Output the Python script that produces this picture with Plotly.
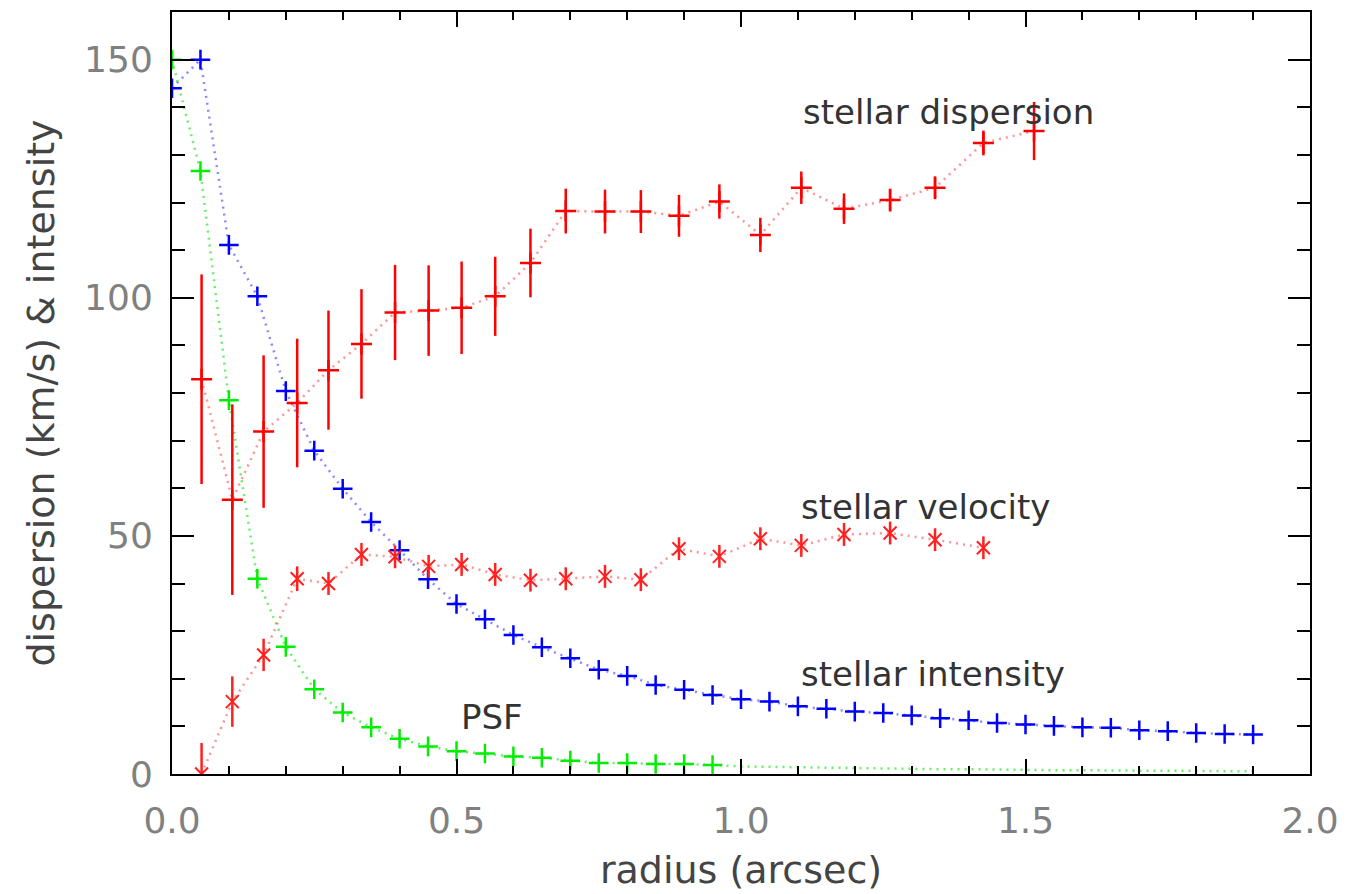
import plotly.graph_objects as go

# ---- data ----
r_int = [0.00, 0.05, 0.10, 0.15, 0.20, 0.25, 0.30, 0.35, 0.40, 0.45, 0.50, 0.55, 0.60,
         0.65, 0.70, 0.75, 0.80, 0.85, 0.90, 0.95, 1.00, 1.05, 1.10, 1.15, 1.20, 1.25,
         1.30, 1.35, 1.40, 1.45, 1.50, 1.55, 1.60, 1.65, 1.70, 1.75, 1.80, 1.85, 1.90]
stellar_intensity = [144.0, 150.0, 111.1, 100.3, 80.4, 67.9, 59.9, 52.9, 47.0, 40.9, 35.7,
                     32.5, 29.2, 26.6, 24.3, 21.9, 20.6, 18.7, 17.7, 16.6, 15.7, 15.2, 14.2,
                     13.7, 13.1, 12.8, 12.3, 11.7, 11.3, 10.7, 10.4, 10.1, 9.8, 9.7, 9.2,
                     9.0, 8.6, 8.4, 8.3]

r_psf = [0.00, 0.05, 0.10, 0.15, 0.20, 0.25, 0.30, 0.35, 0.40, 0.45, 0.50, 0.55, 0.60,
         0.65, 0.70, 0.75, 0.80, 0.85, 0.90, 0.95]
psf = [150.0, 126.6, 78.5, 41.0, 26.7, 17.8, 12.9, 9.8, 7.4, 5.8, 4.8, 4.3, 3.7, 3.4,
       2.8, 2.3, 2.3, 2.1, 2.1, 1.9]
r_psf_tail = [0.95, 1.00, 1.05, 1.10, 1.15, 1.20, 1.25, 1.30, 1.35, 1.40, 1.45, 1.50,
              1.55, 1.60, 1.65, 1.70, 1.75, 1.80, 1.85, 1.90]
psf_tail = [1.9, 1.6, 1.5, 1.4, 1.3, 1.2, 1.2, 1.1, 1.0, 1.0, 0.9, 0.9, 0.8, 0.8, 0.7,
            0.7, 0.7, 0.6, 0.6, 0.6]

r_kin = [0.052, 0.106, 0.161, 0.220, 0.275, 0.333, 0.392, 0.451, 0.509, 0.568, 0.630,
         0.692, 0.761, 0.824, 0.891, 0.962, 1.034, 1.106, 1.181, 1.262, 1.341, 1.426, 1.515]
dispersion = [82.9, 57.6, 71.9, 77.9, 84.8, 90.3, 96.9, 97.3, 97.9, 100.3, 107.3, 118.2,
              118.1, 118.1, 117.2, 120.2, 113.2, 123.1, 118.7, 120.5, 123.1, 132.5, 135.0]
dispersion_err = [22.0, 20.0, 16.0, 13.5, 12.5, 11.5, 10.0, 9.5, 9.7, 8.3, 7.2, 4.7,
                  4.6, 4.5, 4.4, 3.6, 3.6, 3.4, 3.2, 2.4, 2.4, 2.6, 6.1]

velocity = [0.0, 15.2, 25.0, 41.0, 40.0, 46.1, 45.6, 43.6, 44.0, 41.9, 40.7, 41.0, 41.5,
            40.8, 47.3, 45.7, 49.4, 48.0, 50.3, 50.6, 49.2, 47.5]
velocity_err = [6.5, 5.3, 3.4, 2.6, 2.4, 2.4, 2.4, 2.4, 2.4, 2.4, 2.4, 2.4, 2.4, 2.4,
                2.4, 2.4, 2.4, 2.4, 2.4, 2.4, 2.4, 2.4]

x_tickvals = [0.0, 0.5, 1.0, 1.5, 2.0]
x_ticktext = ["0.0", "0.5", "1.0", "1.5", "2.0"]
y_tickvals = [0, 50, 100, 150]
y_ticktext = ["0", "50", "100", "150"]

labels = ["stellar dispersion", "stellar velocity", "stellar intensity", "PSF"]
label_x = [1.105, 1.102, 1.102, 0.505]
label_y = [139.0, 56.0, 21.0, 12.0]

# ---- figure ----
BLUE, GREEN, RED = "#0000ff", "#00ee00", "#ff0000"
DOT = "2px,5px"
fig = go.Figure()

fig.add_trace(go.Scatter(
    x=r_psf_tail, y=psf_tail, mode="lines",
    line=dict(color="rgba(0,230,0,0.6)", width=2.5, dash=DOT), hoverinfo="skip"))
fig.add_trace(go.Scatter(
    x=r_psf, y=psf, mode="lines+markers",
    line=dict(color="rgba(0,230,0,0.6)", width=2.5, dash=DOT),
    marker=dict(symbol="cross-thin-open", size=14, color=GREEN,
                line=dict(color=GREEN, width=2.5))))
fig.add_trace(go.Scatter(
    x=r_int, y=stellar_intensity, mode="lines+markers",
    line=dict(color="rgba(60,60,255,0.6)", width=2.5, dash=DOT),
    marker=dict(symbol="cross-thin-open", size=14, color=BLUE,
                line=dict(color=BLUE, width=2.5))))
fig.add_trace(go.Scatter(
    x=r_kin[:len(velocity)], y=velocity, mode="lines+markers",
    line=dict(color="rgba(255,60,60,0.55)", width=2.5, dash=DOT),
    marker=dict(symbol="x-thin-open", size=13, color="#ff2020",
                line=dict(color="#ff2020", width=2)),
    error_y=dict(type="data", array=velocity_err, color="#ff2020", thickness=2.5, width=0)))
fig.add_trace(go.Scatter(
    x=r_kin, y=dispersion, mode="lines+markers",
    line=dict(color="rgba(255,60,60,0.55)", width=2.5, dash=DOT),
    marker=dict(symbol="cross-thin-open", size=15, color=RED,
                line=dict(color=RED, width=2.5)),
    error_y=dict(type="data", array=dispersion_err, color=RED, thickness=2.5, width=0)))

for t, lx, ly in zip(labels, label_x, label_y):
    fig.add_annotation(x=lx, y=ly, xref="x", yref="y", text=t, showarrow=False,
                       xanchor="left", yanchor="middle",
                       font=dict(family="DejaVu Sans", size=34, color="#333333"))

axis_common = dict(showline=True, linewidth=2, linecolor="black", mirror="allticks",
                   ticks="inside", tickwidth=2, tickcolor="black", showgrid=False,
                   zeroline=False,
                   tickfont=dict(family="DejaVu Sans", size=36, color="#808080"))

fig.update_xaxes(range=[0, 2], tickvals=x_tickvals, ticktext=x_ticktext, ticklen=15,
                 minor=dict(dtick=0.1, tick0=0, ticklen=8, tickwidth=2, ticks="inside",
                            tickcolor="black", showgrid=False),
                 ticklabelstandoff=14,
                 title=dict(text="radius (arcsec)", standoff=16,
                            font=dict(family="DejaVu Sans", size=38, color="#444444")),
                 **axis_common)
fig.update_yaxes(range=[0, 160], tickvals=y_tickvals, ticktext=y_ticktext, ticklen=22,
                 minor=dict(dtick=10, tick0=0, ticklen=13, tickwidth=2, ticks="inside",
                            tickcolor="black", showgrid=False),
                 ticklabelstandoff=10,
                 title=dict(text="dispersion (km/s) & intensity", standoff=18,
                            font=dict(family="DejaVu Sans", size=38, color="#444444")),
                 **axis_common)

fig.update_layout(width=1349, height=894, showlegend=False,
                  paper_bgcolor="white", plot_bgcolor="white",
                  margin=dict(l=172, r=37, t=10, b=120))

fig.write_html("out.html")
